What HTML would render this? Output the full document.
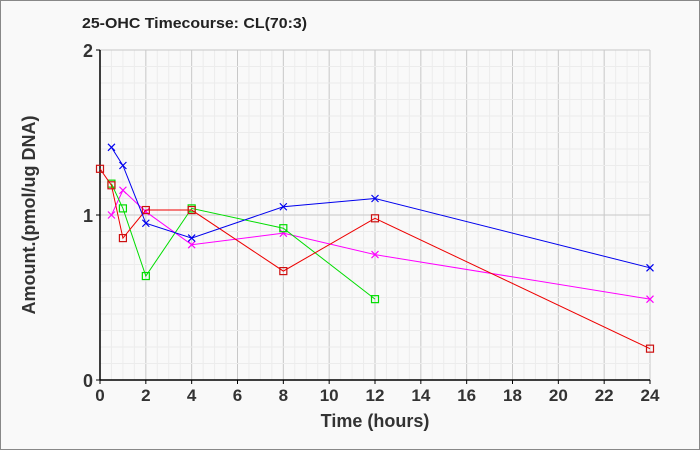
<!DOCTYPE html>
<html><head><meta charset="utf-8"><style>
body{margin:0;background:#fff}
svg{display:block;font-family:"Liberation Sans",sans-serif}
</style></head><body>
<svg id="c" width="700" height="450">
<rect x="0.5" y="0.5" width="699" height="449" fill="#f9f9f9" stroke="#888"/>
<text x="82" y="28" font-size="15" font-weight="bold" fill="#222" textLength="225" lengthAdjust="spacingAndGlyphs">25-OHC Timecourse: CL(70:3)</text>
<text transform="translate(35,215) rotate(-90)" text-anchor="middle" font-size="18" font-weight="bold" fill="#333">Amount.(pmol/ug DNA)</text>
<text x="375" y="427" text-anchor="middle" font-size="18" font-weight="bold" fill="#333">Time (hours)</text>
<g id="grid"></g><g id="axes"></g><g id="series"></g>
</svg>
<script>
const xTicks=[0,2,4,6,8,10,12,14,16,18,20,22,24];
const yTicks=[0,1,2];
const blueX=[0.5,1,2,4,8,12,24];
const blueY=[1.41,1.30,0.95,0.86,1.05,1.10,0.68];
const redX=[0,0.5,1,2,4,8,12,24];
const redY=[1.28,1.18,0.86,1.03,1.03,0.66,0.98,0.19];
const greenX=[0.5,1,2,4,8,12];
const greenY=[1.19,1.04,0.63,1.04,0.92,0.49];
const magX=[0.5,1,2,4,8,12,24];
const magY=[1.00,1.15,1.02,0.82,0.89,0.76,0.49];
const X0=100,X1=650,Y0=380,Y1=50;
const sx=v=>X0+(X1-X0)*v/24, sy=v=>Y0-(Y0-Y1)*v/2;
const NS="http://www.w3.org/2000/svg";
function mk(t,a,p){const e=document.createElementNS(NS,t);for(const k in a)e.setAttribute(k,a[k]);p.appendChild(e);return e;}
const g=document.getElementById('grid'),ax=document.getElementById('axes'),s=document.getElementById('series');
for(let v=0;v<=24.001;v+=0.5){const l=mk('line',{x1:sx(v),x2:sx(v),y1:Y1,y2:Y0,stroke:v%2===0?'#c8c8c8':'#ececec'},g);

}
for(let v=0;v<=2.001;v+=0.1){const r=Math.round(v*10)/10;const l=mk('line',{x1:X0,x2:X1,y1:sy(r),y2:sy(r),stroke:(r%1===0)?'#c8c8c8':'#ececec'},g);

}
mk('line',{x1:X0,x2:X0,y1:Y1,y2:Y0,stroke:'#000','stroke-width':1.5},ax);
mk('line',{x1:X0,x2:X1,y1:Y0,y2:Y0,stroke:'#000','stroke-width':1.5},ax);
xTicks.forEach(v=>{mk('line',{x1:sx(v),x2:sx(v),y1:Y0,y2:Y0+4,stroke:'#000'},ax);
const t=mk('text',{x:sx(v),y:Y0+21,'text-anchor':'middle','font-size':17,'font-weight':'bold',fill:'#333'},ax);t.textContent=v;

});
yTicks.forEach(v=>{mk('line',{x1:X0-4,x2:X0,y1:sy(v),y2:sy(v),stroke:'#000'},ax);
const t=mk('text',{x:X0-7,y:sy(v)+7,'text-anchor':'end','font-size':18,'font-weight':'bold',fill:'#333'},ax);t.textContent=v;

});
function series(xs,ys,col,mark,name,mc){
const pl=mk('polyline',{points:xs.map((x,i)=>sx(x)+','+sy(ys[i])).join(' '),fill:'none',stroke:col,'stroke-width':1},s);


xs.forEach((x,i)=>{const cx=sx(x),cy=sy(ys[i]);let m;
if(mark==='x'){m=mk('path',{d:`M${cx-3.5},${cy-3.5}L${cx+3.5},${cy+3.5}M${cx-3.5},${cy+3.5}L${cx+3.5},${cy-3.5}`,stroke:col,'stroke-width':1.2},s);}
else{m=mk('rect',{x:cx-3.5,y:cy-3.5,width:7,height:7,fill:'none',stroke:mc||col,'stroke-width':1.2},s);}

});}
series(magX,magY,'#ff00ff','x','magenta-series');
series(greenX,greenY,'#00dd00','s','green-series');
series(redX,redY,'#ee0000','s','red-series','#cc1010');
series(blueX,blueY,'#0000ee','x','blue-series');
</script>
</body></html>
